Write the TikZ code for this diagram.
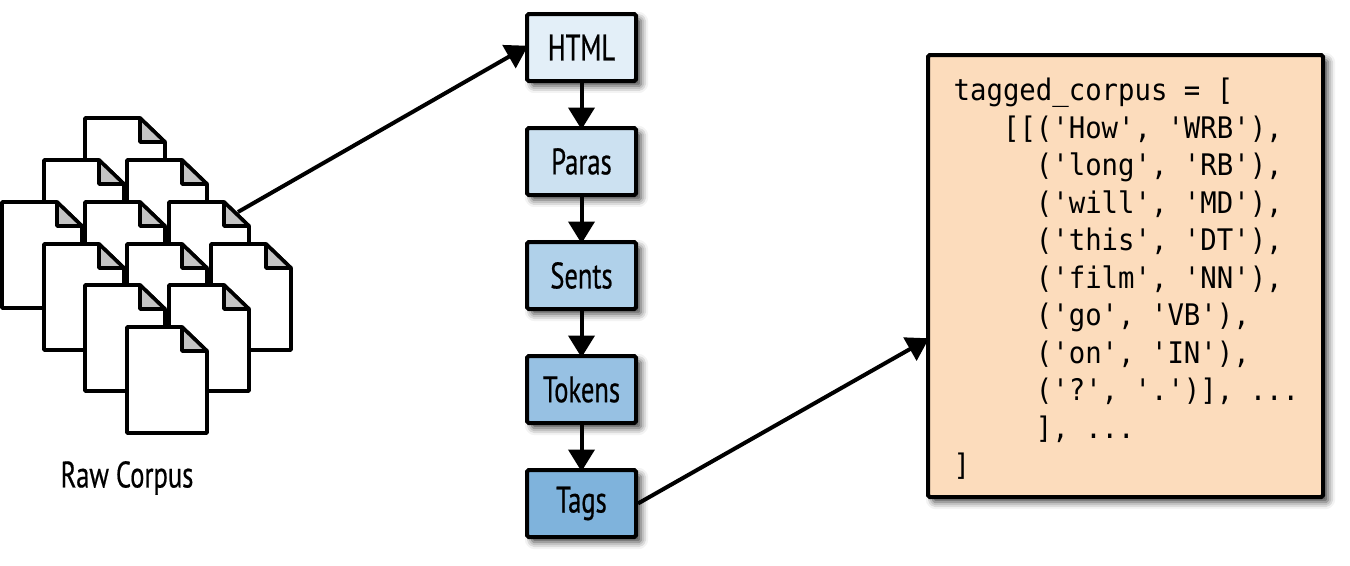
\documentclass[tikz,border=0pt]{standalone}
\usepackage{fontspec}
\setmainfont[FakeStretch=0.72,FakeBold=0.5]{PT Sans}
\setmonofont[FakeStretch=0.92]{DejaVu Sans Mono}
\usepackage{tikz}
\usetikzlibrary{arrows.meta,shadows.blur}
\definecolor{docfold}{HTML}{C4C4C4}
\definecolor{htmlblue}{HTML}{E3EFF8}
\definecolor{parasblue}{HTML}{CCE1F1}
\definecolor{sentsblue}{HTML}{B0D1EA}
\definecolor{tokensblue}{HTML}{97C1E3}
\definecolor{tagsblue}{HTML}{7FB3DC}
\definecolor{codepeach}{HTML}{FCDCBC}
\tikzset{
	stagebox/.style={draw, line width=0.04cm, rounded corners=0.5pt, minimum width=1.09cm, minimum height=0.67cm, inner sep=0pt, font=\fontsize{10.5}{12}\selectfont, softshadow},
	softshadow/.style={blur shadow={shadow xshift=0.05cm, shadow yshift=-0.05cm, shadow blur radius=0.07cm, shadow opacity=75}},
	flow/.style={line width=0.04cm, -{Triangle[width=0.26cm,length=0.22cm]}, shorten >=-1pt}
}
\newcommand{\rawdoc}[2] % {x}{y} top left corner
{
	\draw [line width=0.036cm, line join=round, fill=white] (#1,#2) -- (#1+0.55,#2) -- (#1+0.8,#2-0.24) -- (#1+0.8,#2-1.06) -- (#1,#2-1.06) -- cycle;
	\draw [line width=0.036cm, line join=round, fill=docfold] (#1+0.55,#2) -- (#1+0.8,#2-0.24) -- (#1+0.55,#2-0.24) -- cycle;
}

\begin{document}
\begin{tikzpicture}
	\useasboundingbox (0,0) rectangle (13.5,5.65);

	%the pile of documents, back to front
	\rawdoc{0.85}{4.47}
	\rawdoc{0.44}{4.05}
	\rawdoc{1.27}{4.05}
	\rawdoc{0.02}{3.63}
	\rawdoc{0.85}{3.63}
	\rawdoc{1.69}{3.63}
	\rawdoc{0.44}{3.21}
	\rawdoc{1.27}{3.21}
	\rawdoc{2.11}{3.21}
	\rawdoc{0.85}{2.80}
	\rawdoc{1.69}{2.80}
	\rawdoc{1.27}{2.38}
	\coordinate (corpusout) at (2.38,3.53);
	\node [font=\fontsize{10.5}{12}\selectfont] (rawlabel) at (1.27,0.87) {Raw Corpus};

	\node [stagebox, fill=htmlblue] (html) at (5.815,5.175) {HTML};
	\node [stagebox, fill=parasblue] (paras) at (5.815,4.035) {Paras};
	\node [stagebox, fill=sentsblue] (sents) at (5.815,2.895) {Sents};
	\node [stagebox, fill=tokensblue] (tokens) at (5.815,1.755) {Tokens};
	\node [stagebox, fill=tagsblue] (tags) at (5.815,0.615) {Tags};

	\node [draw, line width=0.04cm, rounded corners=0.5pt, fill=codepeach, minimum width=3.95cm, minimum height=4.42cm, softshadow] (codebox) at (11.255,2.89) {};
	\node [anchor=west, inner sep=0pt, align=left, font=\ttfamily\fontsize{8.45}{10.67}\selectfont] (code) at (9.53,2.86) {%
		tagged\_corpus = [\\
		~~~[[('How', 'WRB'),\\
		~~~~~('long', 'RB'),\\
		~~~~~('will', 'MD'),\\
		~~~~~('this', 'DT'),\\
		~~~~~('film', 'NN'),\\
		~~~~~('go', 'VB'),\\
		~~~~~('on', 'IN'),\\
		~~~~~('?', '.')], ...\\
		~~~~~], ...\\
		]};
	\coordinate (codein) at (9.26,2.25);

	\draw [flow] (corpusout) -- (html.west);
	\draw [flow] (html) -- (paras);
	\draw [flow] (paras) -- (sents);
	\draw [flow] (sents) -- (tokens);
	\draw [flow] (tokens) -- (tags);
	\draw [flow] (tags.east) -- (codein);
\end{tikzpicture}
\end{document}
